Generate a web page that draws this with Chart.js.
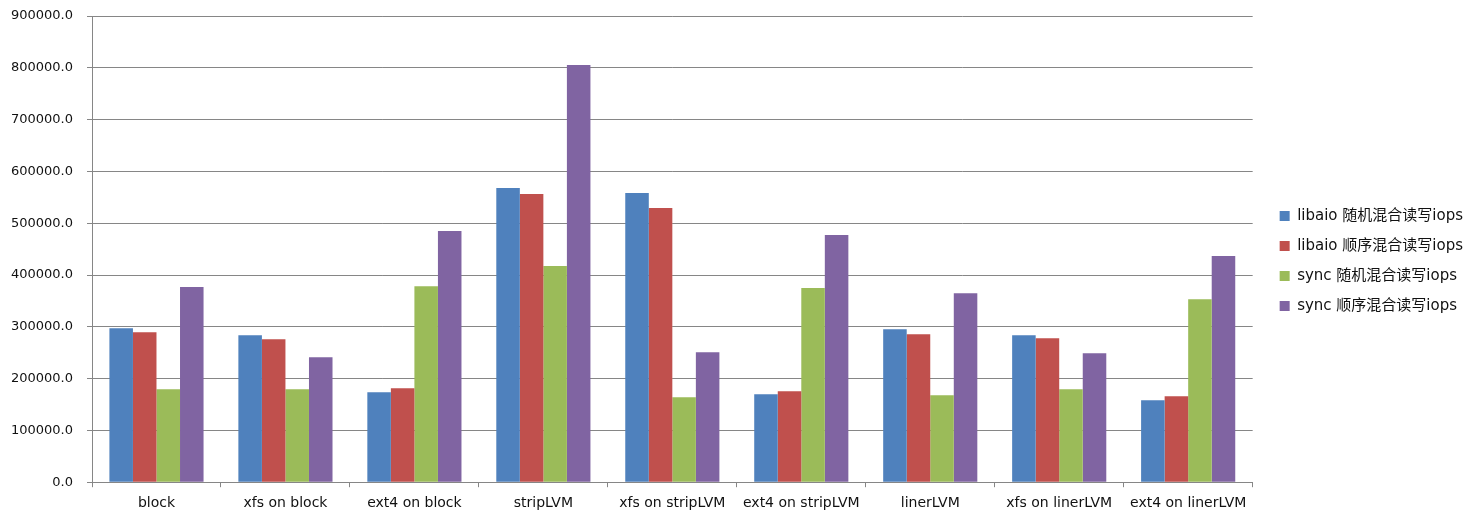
<!DOCTYPE html>
<html>
<head>
<meta charset="utf-8">
<title>iops</title>
<script src="https://cdn.jsdelivr.net/npm/chart.js@4/dist/chart.umd.min.js"></script>
<style>
    html, body { margin: 0; padding: 0; background: #fff; }
    #wrap { width: 1475px; height: 522px; }
</style>
</head>
<body>
<div id="wrap"><canvas id="iopsChart" width="1475" height="522"></canvas></div>
<script>
const categories = ['block', 'xfs on block', 'ext4 on block', 'stripLVM', 'xfs on stripLVM',
    'ext4 on stripLVM', 'linerLVM', 'xfs on linerLVM', 'ext4 on linerLVM'];

const seriesNames = ['libaio 随机混合读写iops', 'libaio 顺序混合读写iops',
    'sync 随机混合读写iops', 'sync 顺序混合读写iops'];

const libaioRand = [297400, 283900, 173800, 567800, 558200, 170000, 295500, 283900, 158400];
const libaioSeq  = [289700, 276200, 181500, 556200, 529200, 175800, 285800, 278100, 166100];
const syncRand   = [179600, 179600, 378500, 417200, 164200, 374700, 168000, 179600, 353400];
const syncSeq    = [376600, 241400, 484800, 805400, 251100, 477000, 365000, 249100, 436500];

const yMin = 0;
const yMax = 900000;
const yStep = 100000;

const colors = ['#4F81BD', '#C0504D', '#9BBB59', '#8064A2'];
const gridColor = '#868686';
const fontFamily = '"DejaVu Sans", "Noto Sans CJK SC", sans-serif';

Chart.defaults.font.family = fontFamily;
Chart.defaults.font.size = 13;
Chart.defaults.color = '#111';

// nudge the legend right and up a bit, like the original
const legendShift = {
    id: 'legendShift',
    afterLayout(chart) {
        if (chart.legend) {
            chart.legend.left += 12;
            chart.legend.right += 12;
            chart.legend.top -= 7;
            chart.legend.bottom -= 7;
        }
    }
};

const ctx = document.getElementById('iopsChart').getContext('2d');

new Chart(ctx, {
    type: 'bar',
    data: {
        labels: categories,
        datasets: [libaioRand, libaioSeq, syncRand, syncSeq].map((vals, i) => ({
            label: seriesNames[i],
            data: vals,
            backgroundColor: colors[i],
            borderWidth: 0,
            categoryPercentage: 0.73,
            barPercentage: 1.0
        }))
    },
    options: {
        responsive: false,
        maintainAspectRatio: false,
        animation: false,
        devicePixelRatio: 1,
        layout: {
            padding: { left: 0, right: 14, top: 16, bottom: 2 }
        },
        plugins: {
            legend: {
                position: 'right',
                labels: {
                    boxWidth: 10,
                    boxHeight: 10,
                    padding: 15,
                    font: { size: 15, family: fontFamily }
                }
            },
            tooltip: { enabled: false }
        },
        scales: {
            x: {
                grid: {
                    offset: true,
                    drawOnChartArea: false,
                    color: gridColor,
                    tickLength: 5
                },
                border: { color: gridColor },
                ticks: { padding: 8, maxRotation: 0, autoSkip: false, font: { size: 14 } }
            },
            y: {
                min: yMin,
                max: yMax,
                afterFit: scale => {
                    scale.width = 92;
                    scale.paddingTop = 0;
                    scale.paddingBottom = 0;
                },
                ticks: {
                    stepSize: yStep,
                    padding: 14,
                    font: { size: 13 },
                    callback: v => v.toFixed(1)
                },
                grid: { color: gridColor, tickLength: 5 },
                border: { color: gridColor }
            }
        }
    },
    plugins: [legendShift]
});
</script>
</body>
</html>
